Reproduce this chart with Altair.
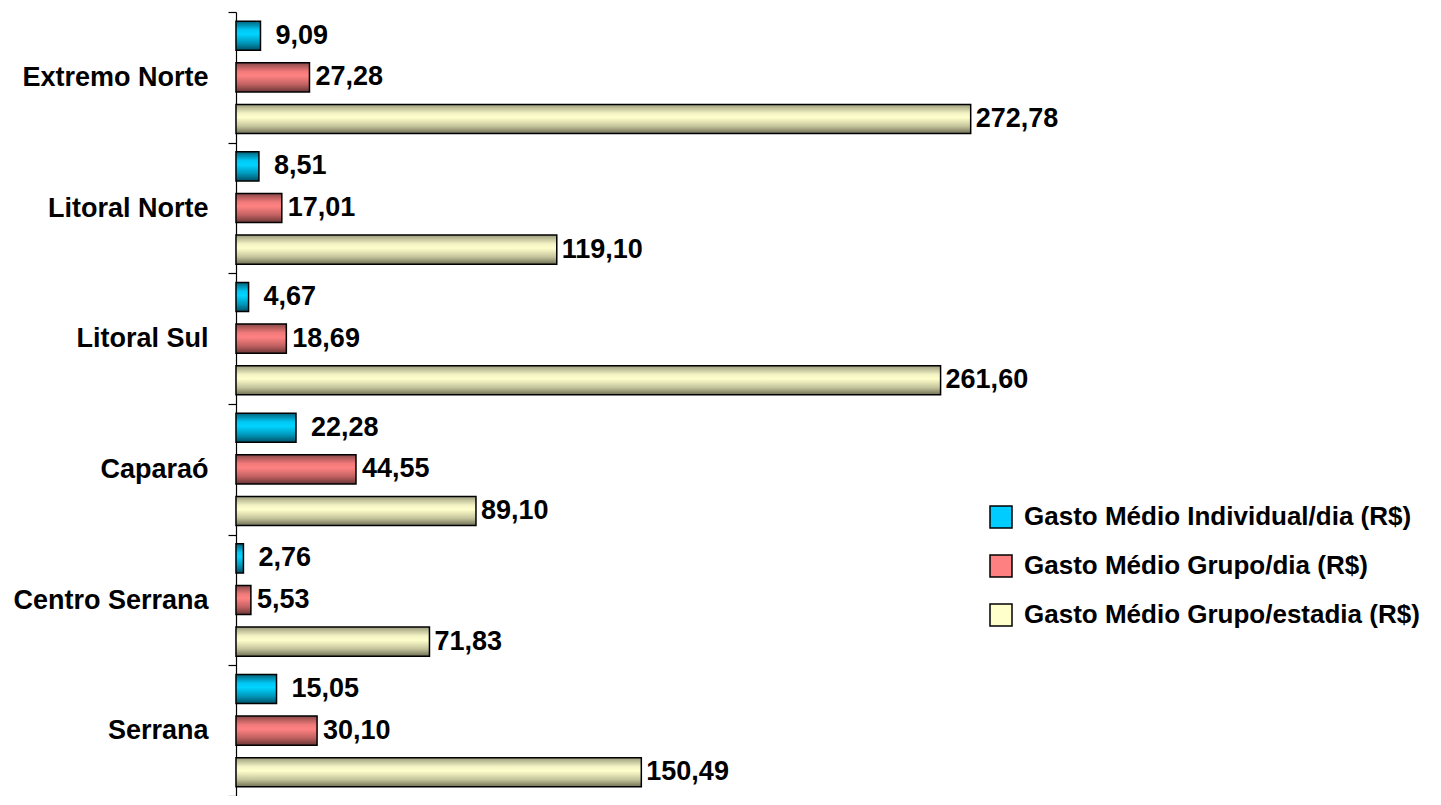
import altair as alt
import pandas as pd

FONT = "Liberation Sans"
FS = 27

regions = ["Extremo Norte", "Litoral Norte", "Litoral Sul", "Caparaó", "Centro Serrana", "Serrana"]
series = [
    "Gasto Médio Individual/dia (R$)",
    "Gasto Médio Grupo/dia (R$)",
    "Gasto Médio Grupo/estadia (R$)",
]
individual_dia = [9.09, 8.51, 4.67, 22.28, 2.76, 15.05]
grupo_dia = [27.28, 17.01, 18.69, 44.55, 5.53, 30.10]
grupo_estadia = [272.78, 119.10, 261.60, 89.10, 71.83, 150.49]

legend_colors = ["#00ccff", "#ff8080", "#ffffcc"]
grad_stops = [
    ["#00627c", "#00c8f4", "#00d4ff", "#0096b8", "#004f66"],
    ["#8a4848", "#f27a7a", "#ff8282", "#c06060", "#6a3636"],
    ["#9c9c7c", "#f2f2c4", "#ffffcc", "#c4c49c", "#707056"],
]
label_dx = [15, 6, 5]

rows = []
for i, r in enumerate(regions):
    for s, vals in zip(series, [individual_dia, grupo_dia, grupo_estadia]):
        rows.append({"regiao": r, "serie": s, "valor": vals[i]})
df = pd.DataFrame(rows)

x = alt.X("valor:Q", scale=alt.Scale(domain=[0, 300], nice=False, zero=True), axis=None)
y = alt.Y(
    "regiao:N",
    sort=regions,
    scale=alt.Scale(domain=regions, paddingInner=0, paddingOuter=0),
    axis=alt.Axis(
        title=None,
        tickBand="extent",
        tickSize=8,
        tickColor="black",
        tickWidth=1.2,
        domainColor="black",
        domainWidth=1.2,
        labelFont=FONT,
        labelFontSize=FS,
        labelFontWeight="bold",
        labelColor="black",
        labelPadding=20,
        labelLimit=0,
    ),
)
yoff = alt.YOffset(
    "serie:N",
    sort=series,
    scale=alt.Scale(domain=series, paddingInner=0.3, paddingOuter=0.22),
)

base = alt.Chart(df).transform_calculate(
    rotulo="replace(format(datum.valor, '.2f'), '.', ',')"
)

layers = []
for k, s in enumerate(series):
    cols = grad_stops[k]
    grad = alt.Gradient(
        gradient="linear",
        x1=0, x2=0, y1=0, y2=1,
        stops=[
            alt.GradientStop(offset=0.0, color=cols[0]),
            alt.GradientStop(offset=0.3, color=cols[1]),
            alt.GradientStop(offset=0.45, color=cols[2]),
            alt.GradientStop(offset=0.75, color=cols[3]),
            alt.GradientStop(offset=1.0, color=cols[4]),
        ],
    )
    sub = base.transform_filter(alt.datum.serie == s)
    bars = sub.mark_bar(fill=grad, stroke="black", strokeWidth=1.5).encode(
        x=x, y=y, yOffset=yoff
    )
    text = sub.mark_text(
        align="left", baseline="middle", dx=label_dx[k],
        font=FONT, fontSize=FS, fontWeight="bold", color="black",
    ).encode(x=x, y=y, yOffset=yoff, text="rotulo:N")
    layers += [bars, text]

legend_layer = alt.Chart(df).mark_square(opacity=0, filled=True).encode(
    x=x,
    y=y,
    yOffset=yoff,
    color=alt.Color(
        "serie:N",
        sort=series,
        scale=alt.Scale(domain=series, range=legend_colors),
        legend=alt.Legend(
            title=None,
            orient="none",
            legendX=752,
            legendY=492,
            symbolType="square",
            symbolSize=484,
            symbolStrokeColor="black",
            symbolStrokeWidth=1.5,
            symbolOpacity=1,
            labelFont=FONT,
            labelFontSize=26,
            labelFontWeight="bold",
            labelColor="black",
            labelOffset=10,
            labelLimit=0,
            rowPadding=21,
            padding=0,
        ),
    ),
)
layers.append(legend_layer)

chart = alt.layer(*layers).properties(
    width=808,
    height=784,
    background="white",
    padding={"left": 228, "top": 4, "right": 389, "bottom": 0},
    autosize=alt.AutoSizeParams(type="none"),
).configure_view(stroke="transparent", strokeWidth=0)

chart.save("out.html", embed_options={"renderer": "svg", "actions": False})
